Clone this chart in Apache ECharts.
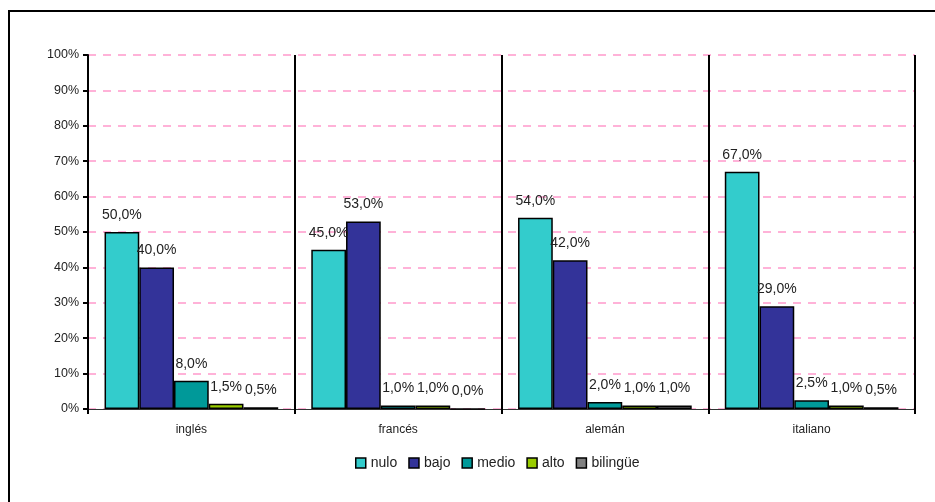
<!DOCTYPE html>
<html>
<head>
<meta charset="utf-8">
<script src="https://cdn.jsdelivr.net/npm/echarts@6/dist/echarts.min.js"></script>
<style>
  html, body { margin: 0; padding: 0; background: #fff; }
  #main { width: 935px; height: 502px; }
</style>
</head>
<body>
<div id="main"></div>
<script>
var categories = ['inglés', 'francés', 'alemán', 'italiano'];
var seriesNames = ['nulo', 'bajo', 'medio', 'alto', 'bilingüe'];
var nulo = [50, 45, 54, 67];
var bajo = [40, 53, 42, 29];
var medio = [8, 1, 2, 2.5];
var alto = [1.5, 1, 1, 1];
var bilingue = [0.5, 0, 1, 0.5];
var colors = ['#33CCCC', '#333399', '#009999', '#99CC00', '#808080'];

var values = [nulo, bajo, medio, alto, bilingue];
var font = 'Liberation Sans, Arial, sans-serif';

function pct(v) {
    return v.toFixed(1).replace('.', ',') + '%';
}

var series = seriesNames.map(function (name, i) {
    return {
        name: name,
        type: 'bar',
        barGap: '0%',
        barCategoryGap: '16%',
        itemStyle: { color: colors[i], borderColor: '#000', borderWidth: 1.5 },
        label: {
            show: true,
            position: 'top',
            distance: 10,
            color: '#222',
            fontFamily: font,
            fontSize: 14,
            formatter: function (p) { return pct(p.value); }
        },
        data: values[i]
    };
});

var chart = echarts.init(document.getElementById('main'));
chart.setOption({
    animation: false,
    color: colors,
    graphic: [{
        type: 'rect',
        shape: { x: 9, y: 11, width: 1000, height: 1000 },
        style: { fill: 'none', stroke: '#000', lineWidth: 2 }
    }],
    grid: { left: 88, right: 20, top: 55, bottom: 93 },
    legend: {
        bottom: 27,
        left: 350,
        itemWidth: 10,
        itemHeight: 10,
        itemGap: 11,
        icon: 'rect',
        itemStyle: { borderColor: '#000', borderWidth: 1.5 },
        textStyle: { fontFamily: font, fontSize: 14, color: '#222' },
        data: seriesNames
    },
    xAxis: {
        type: 'category',
        data: categories,
        axisLine: { lineStyle: { color: '#333', width: 1 } },
        axisTick: { show: true, length: 5, lineStyle: { color: '#000', width: 2 } },
        splitLine: { show: true, lineStyle: { color: '#000', width: 2 } },
        axisLabel: { fontFamily: font, fontSize: 12, color: '#222', margin: 15 }
    },
    yAxis: {
        type: 'value',
        min: 0,
        max: 100,
        interval: 10,
        axisLine: { show: true, lineStyle: { color: '#000', width: 2 } },
        axisTick: { show: true, length: 5, lineStyle: { color: '#000', width: 2 } },
        axisLabel: { fontFamily: font, fontSize: 12.5, color: '#222', margin: 9, formatter: '{value}%' },
        splitLine: { show: true, lineStyle: { color: '#FF99CC', width: 1.5, type: [8, 7] } }
    },
    series: series
});
</script>
</body>
</html>
